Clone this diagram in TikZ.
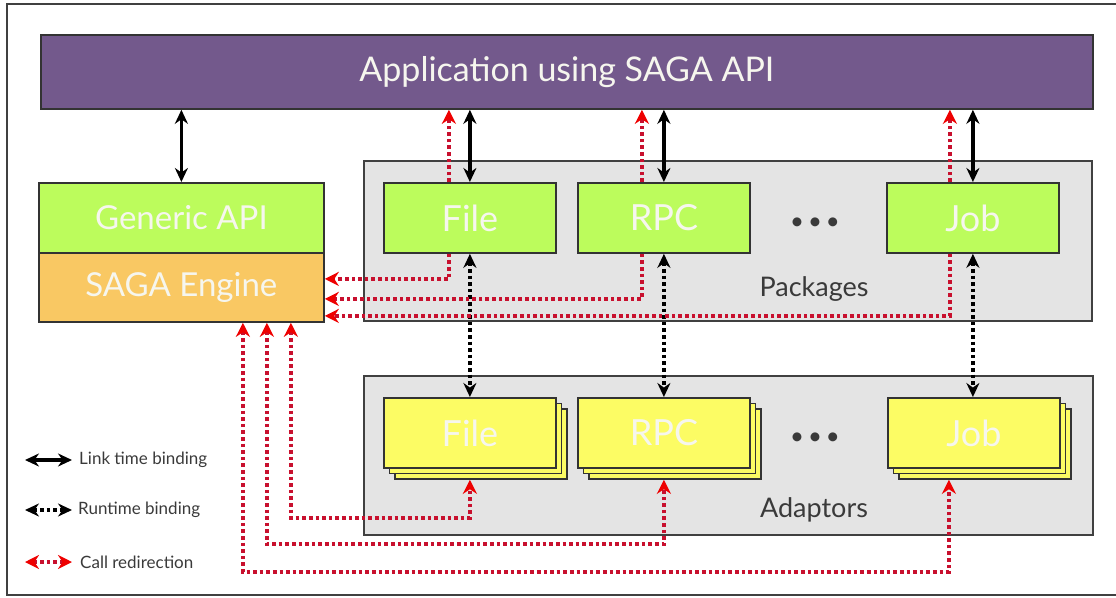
\documentclass[tikz,border=0pt]{standalone}
\usepackage{fontspec}
\setmainfont{Lato}
\usetikzlibrary{arrows.meta,calc}
\definecolor{appc}{HTML}{73598C}
\definecolor{greenc}{HTML}{BCFC5C}
\definecolor{orangec}{HTML}{F9C863}
\definecolor{yellowc}{HTML}{FCFC64}
\definecolor{greyc}{HTML}{E4E4E4}
\definecolor{darktext}{HTML}{3A3A3A}
\definecolor{reddot}{HTML}{C8102E}
\definecolor{redtip}{HTML}{EE0000}
\definecolor{lighttext}{HTML}{F6F6EE}
\tikzset{
  box/.style={draw=black!80, line width=1.8pt, inner sep=0pt, anchor=north west, text=lighttext},
  pkgbox/.style={box, fill=greenc, minimum width=172pt, minimum height=70pt, font=\fontsize{36}{36}\selectfont},
  adbox/.style={box, fill=yellowc, minimum width=172pt, minimum height=70pt, font=\fontsize{36}{36}\selectfont},
  area/.style={draw=black!75, line width=1.6pt, fill=greyc, inner sep=0pt, anchor=north west},
  link/.style={{Stealth[length=14pt,width=13pt]}-{Stealth[length=14pt,width=13pt]}, line width=3.2pt, black},
  runtime/.style={{Stealth[length=14pt,width=13pt]}-{Stealth[length=14pt,width=13pt]}, line width=3.6pt, black, dash pattern=on 3.6pt off 3pt},
  redir/.style={draw=reddot, line width=3.6pt, dash pattern=on 3.6pt off 3pt},
  redone/.style={redir, -{Stealth[length=14pt,width=14pt,color=redtip]}},
  redtwo/.style={redir, {Stealth[length=14pt,width=14pt,color=redtip]}-{Stealth[length=14pt,width=14pt,color=redtip]}},
  legend/.style={anchor=west, text=darktext, inner sep=0pt, font=\fontsize{17}{17}\selectfont},
  label/.style={text=darktext, inner sep=0pt, font=\fontsize{27}{27}\selectfont},
  dots/.style={text=darktext, inner sep=0pt, font=\fontsize{24}{24}\selectfont}
}
\begin{document}
\begin{tikzpicture}[x=1pt,y=-1pt]
\useasboundingbox (0,0) rectangle (1116,597);
% outer frame
\draw[black!75, line width=1.4pt] (1130,4) -- (7,4) -- (7,595) -- (1130,595);

% application bar
\node[box, fill=appc, minimum width=1052pt, minimum height=74pt, font=\fontsize{34}{34}\selectfont] (app) at (40,34) {Application using SAGA API};

% generic API and engine
\node[box, fill=greenc, minimum width=285pt, minimum height=70pt, font=\fontsize{33}{33}\selectfont] (gen) at (38,182) {Generic API};
\node[box, fill=orangec, minimum width=285pt, minimum height=69pt, font=\fontsize{33}{33}\selectfont] (eng) at (38,252) {SAGA Engine};

% packages area
\node[area, minimum width=728pt, minimum height=160pt] (pkgs) at (363,160) {};
\node[pkgbox] (pfile) at (383,182) {File};
\node[pkgbox] (prpc) at (577,182) {RPC};
\node[pkgbox] (pjob) at (886,182) {Job};
\node[dots] (pdots) at (815,224) {•\,•\,•};
\node[label] (plab) at (814,289) {Packages};

% adaptors area
\node[area, minimum width=729pt, minimum height=159pt] (ads) at (363,375) {};
\node[adbox] (afile3) at (394,408) {};
\node[adbox] (afile2) at (388.5,402.5) {};
\node[adbox] (afile) at (383,397) {File};
\node[adbox] (arpc3) at (588,408) {};
\node[adbox] (arpc2) at (582.5,402.5) {};
\node[adbox] (arpc) at (577,397) {RPC};
\node[adbox] (ajob3) at (898,408) {};
\node[adbox] (ajob2) at (892.5,402.5) {};
\node[adbox] (ajob) at (887,397) {Job};
\node[dots] (adots) at (815,439) {•\,•\,•};
\node[label] (alab) at (814,510) {Adaptors};

% link time bindings
\draw[link] (app.south -| gen.north) -- (gen.north);
\draw[link] (app.south -| pfile.north) -- (pfile.north);
\draw[link] (app.south -| prpc.north) -- (prpc.north);
\draw[link] (app.south -| pjob.north) -- (pjob.north);

% runtime bindings
\draw[runtime] (pfile.south) -- (afile.north);
\draw[runtime] (prpc.south) -- (arpc.north);
\draw[runtime] (pjob.south) -- (pjob.south |- ajob.north);

% call redirection: packages up to application
\draw[redone] ([xshift=-21pt]pfile.north) -- ([xshift=-21pt]pfile.north |- app.south);
\draw[redone] ([xshift=-22pt]prpc.north) -- ([xshift=-22pt]prpc.north |- app.south);
\draw[redone] ([xshift=-23pt]pjob.north) -- ([xshift=-23pt]pjob.north |- app.south);

% call redirection: packages down to engine
\draw[redone] ([xshift=-21pt]pfile.south) |- ([yshift=8.5pt]eng.east);
\draw[redone] ([xshift=-22pt]prpc.south) |- ([yshift=-11.5pt]eng.east);
\draw[redone] ([xshift=-23pt]pjob.south) |- ([yshift=-28.5pt]eng.east);

% call redirection: engine to adaptors
\coordinate (c1) at ($(eng.south)+(109.5,0)$);
\coordinate (c2) at ($(eng.south)+(85.5,0)$);
\coordinate (c3) at ($(eng.south)+(61.5,0)$);
\draw[redtwo] (c1) -- (c1 |- 0,518) -| (afile.south |- afile3.south);
\draw[redtwo] (c2) -- (c2 |- 0,544) -| (arpc.south |- arpc3.south);
\draw[redtwo] (c3) -- (c3 |- 0,572) -| ([xshift=-25pt]ajob.south |- ajob3.south);

% legend
\coordinate (l1a) at (25,460); \coordinate (l1b) at (72,460);
\coordinate (l2a) at (25,510); \coordinate (l2b) at (72,510);
\coordinate (l3a) at (25,562); \coordinate (l3b) at (72,562);
\draw[link] (l1a) -- (l1b);
\draw[runtime] (l2a) -- (l2b);
\draw[redtwo] (l3a) -- (l3b);
\node[legend] (t1) at (79,460) {Link time binding};
\node[legend] (t2) at (78,510) {Runtime binding};
\node[legend] (t3) at (80,562) {Call redirection};
\end{tikzpicture}
\end{document}
